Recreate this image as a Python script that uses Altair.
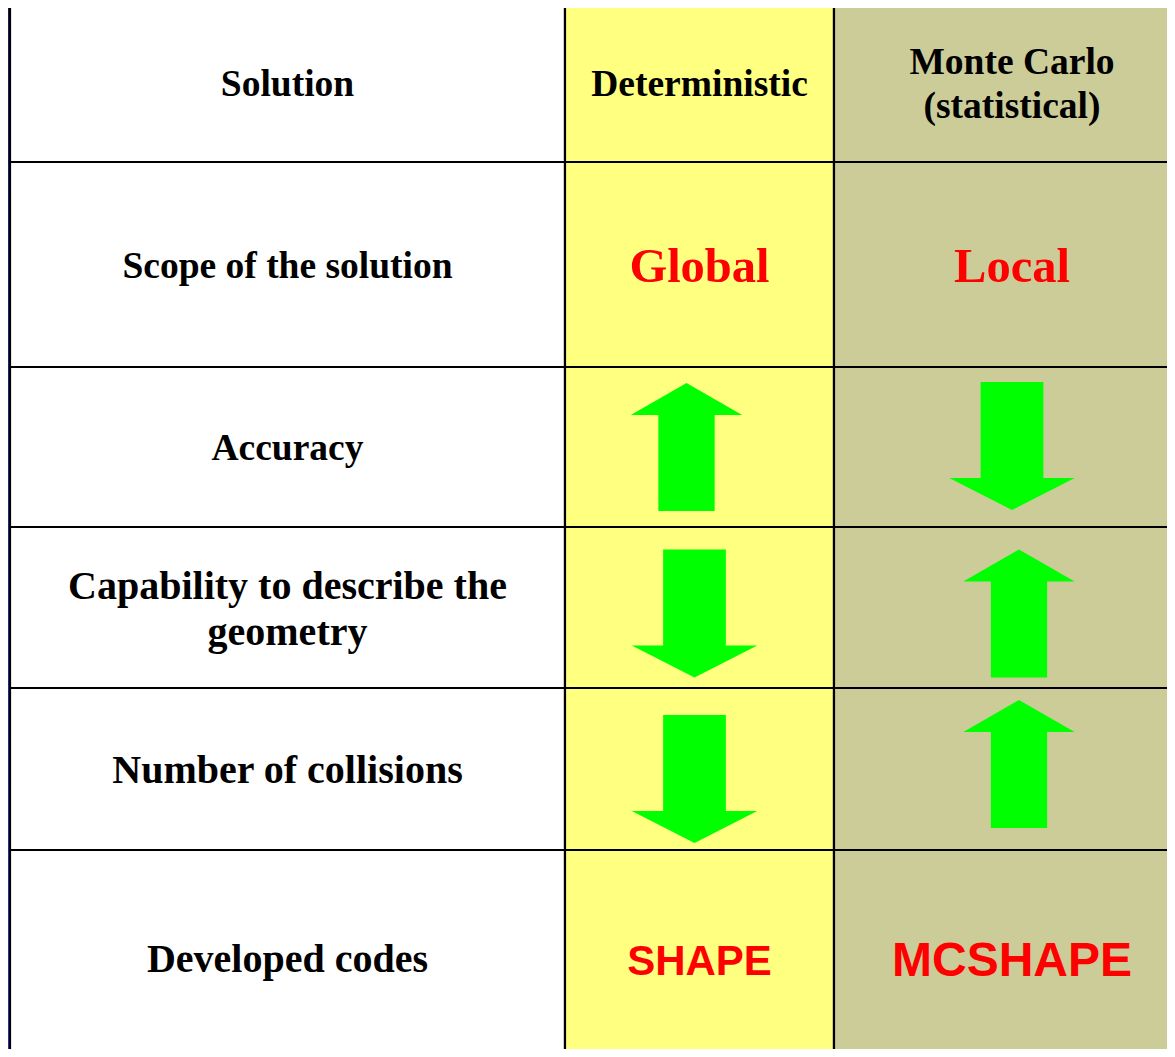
import altair as alt
import pandas as pd

# ---- table grid (layout, in page pixels) ----
col_edges = [10, 565, 834, 1190]
row_edges = [5, 162, 367, 527, 688, 850, 1066]
col_fills = ["#FFFFFF", "#FFFF80", "#CCCC99"]

# ---- table content ----
headers = ["Solution", "Deterministic", "Monte Carlo\n(statistical)"]
criteria = [
    "Scope of the solution",
    "Accuracy",
    "Capability to describe the\ngeometry",
    "Number of collisions",
    "Developed codes",
]
scope = ["Global", "Local"]
accuracy = ["up", "down"]
capability = ["down", "up"]
collisions = ["down", "up"]
codes = ["SHAPE", "MCSHAPE"]

# ---- styling (layout only) ----
header_size = 37.5
criteria_sizes = [37.5, 37.5, 40, 40, 40]
scope_size = 48.5
code_sizes = [42, 48]
arrow_nudge = {(1, "up"): -13, (1, "down"): -5, (2, "up"): 7, (2, "down"): 0}
arrow_vnudge = {(2, 1): 0, (2, 2): -1, (3, 1): 6, (3, 2): 6, (4, 1): 10, (4, 2): -5}

W, H = 1159, 1041
X0, Y0 = 8, 8


def cx(j):
    return (col_edges[j] + col_edges[j + 1]) / 2


def cy(i):
    return (row_edges[i] + row_edges[i + 1]) / 2


def lines_shift(t, lh):
    n = t.count("\n") + 1
    return -(n - 1) * lh / 2


cells = []
for i in range(len(row_edges) - 1):
    for j in range(len(col_edges) - 1):
        cells.append(dict(x0=col_edges[j], x1=col_edges[j + 1],
                          y0=row_edges[i], y1=row_edges[i + 1],
                          fill=col_fills[j]))
cells = pd.DataFrame(cells)

serif_text = []
for j, h in enumerate(headers):
    lh = 44
    serif_text.append(dict(x=cx(j), y=cy(0) + 1 + lines_shift(h, lh), t=h,
                           size=header_size, color="#000000", lh=lh))
for i, c in enumerate(criteria):
    lh = 46
    serif_text.append(dict(x=cx(0), y=cy(i + 1) + 2 + lines_shift(c, lh), t=c,
                           size=criteria_sizes[i], color="#000000", lh=lh))
for j, s in enumerate(scope):
    serif_text.append(dict(x=cx(j + 1), y=cy(1) + 2, t=s, size=scope_size,
                           color="#FF0000", lh=44))
serif_text = pd.DataFrame(serif_text)

sans_text = pd.DataFrame([
    dict(x=cx(j + 1), y=cy(5) + 4, t=c, size=code_sizes[j], color="#FF0000")
    for j, c in enumerate(codes)
])

arrows = []
for ri, dirs in ((2, accuracy), (3, capability), (4, collisions)):
    for j, d in enumerate(dirs):
        col = j + 1
        arrows.append(dict(x=cx(col) + arrow_nudge[(col, d)],
                           y=cy(ri) + arrow_vnudge.get((ri, col), 0),
                           dir=d))
arrows = pd.DataFrame(arrows)

UP = "M0,-1 L0.87,-0.5 L0.44,-0.5 L0.44,1 L-0.44,1 L-0.44,-0.5 L-0.87,-0.5 Z"
DOWN = "M-0.49,-1 L0.49,-1 L0.49,0.5 L0.98,0.5 L0,1 L-0.98,0.5 L-0.49,0.5 Z"

xs = alt.Scale(domain=[X0, X0 + W], nice=False, zero=False)
ys = alt.Scale(domain=[Y0, Y0 + H], nice=False, zero=False, reverse=True)

bg = alt.Chart(pd.DataFrame({"a": [0]})).mark_rect(
    color=alt.Gradient(
        gradient="linear",
        stops=[alt.GradientStop(color="#1C1C6A", offset=0),
               alt.GradientStop(color="#3434CE", offset=1)],
        x1=0, x2=0, y1=0, y2=1,
    )
).encode(x=alt.value(0), x2=alt.value(W), y=alt.value(0), y2=alt.value(H))

rects = alt.Chart(cells).mark_rect(stroke="#000000", strokeWidth=2.2, clip=True).encode(
    x=alt.X("x0:Q", scale=xs, axis=None),
    x2="x1:Q",
    y=alt.Y("y0:Q", scale=ys, axis=None),
    y2="y1:Q",
    fill=alt.Fill("fill:N", scale=None),
)


def serif_layer(df, lh):
    return alt.Chart(df).mark_text(
        font="Liberation Serif", fontWeight="bold", baseline="middle",
        align="center", lineBreak="\n", lineHeight=lh,
    ).encode(
        x=alt.X("x:Q", scale=xs, axis=None),
        y=alt.Y("y:Q", scale=ys, axis=None),
        text="t:N",
        size=alt.Size("size:Q", scale=None),
        color=alt.Color("color:N", scale=None),
    )


t1a = serif_layer(serif_text[serif_text.lh == 44], 44)
t1b = serif_layer(serif_text[serif_text.lh == 46], 46)

t2 = alt.Chart(sans_text).mark_text(
    font="Liberation Sans", fontWeight="bold", baseline="middle", align="center",
).encode(
    x=alt.X("x:Q", scale=xs, axis=None),
    y=alt.Y("y:Q", scale=ys, axis=None),
    text="t:N",
    size=alt.Size("size:Q", scale=None),
    color=alt.Color("color:N", scale=None),
)

arr = alt.Chart(arrows).mark_point(
    filled=True, opacity=1, size=16384, color="#00FF00", strokeWidth=0,
).encode(
    x=alt.X("x:Q", scale=xs, axis=None),
    y=alt.Y("y:Q", scale=ys, axis=None),
    shape=alt.Shape("dir:N", scale=alt.Scale(domain=["up", "down"], range=[UP, DOWN]), legend=None),
)

chart = alt.layer(bg, rects, arr, t1a, t1b, t2).properties(
    width=W, height=H, padding=0, autosize=alt.AutoSizeParams(type="none"),
).configure_view(stroke=None)

chart.save("out.html", embed_options={"renderer": "svg", "actions": False})
